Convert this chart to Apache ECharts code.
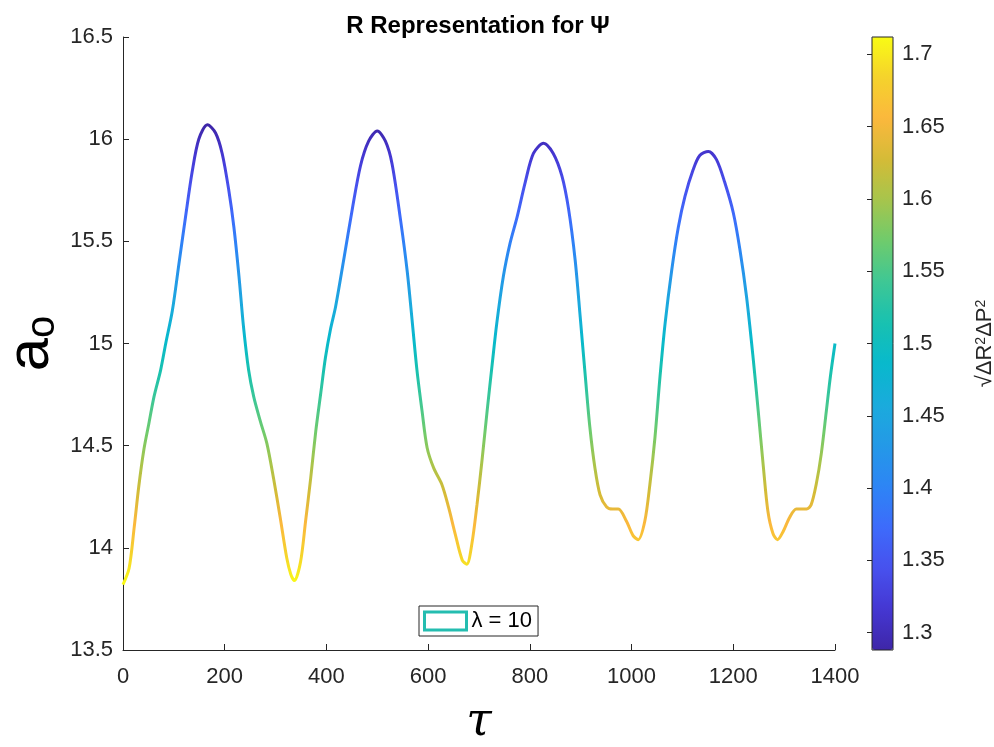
<!DOCTYPE html>
<html><head><meta charset="utf-8">
<script src="https://cdn.jsdelivr.net/npm/echarts@6/dist/echarts.min.js"></script>
<style>html,body{margin:0;padding:0;background:#fff}#c{width:994px;height:747px}</style>
</head><body><div id="c"></div>
<script>
// ---- data ----
const tau = [0,12,22,31,41,51,61,74,84,97,110,123,136,149,166,182,195,208,218,228,237,247,257,270,283,296,309,322,330,337,349,359,369,379,389,398,408,418,434,451,467,483,500,516,529,546,559,569,578,588,598,611,627,640,653,667,676,686,696,706,716,726,735,748,761,775,791,807,827,846,863,876,889,899,909,918,928,938,951,963,974,990,1003,1013,1026,1036,1046,1056,1066,1079,1092,1105,1121,1134,1151,1167,1183,1200,1213,1226,1239,1249,1259,1268,1278,1287,1298,1311,1324,1336,1344,1353,1363,1373,1383,1391,1400];
const aO = [13.82,13.90,14.10,14.30,14.48,14.61,14.74,14.87,15.00,15.16,15.39,15.62,15.84,16.00,16.07,16.03,15.93,15.75,15.57,15.33,15.08,14.87,14.74,14.62,14.51,14.34,14.15,13.95,13.87,13.84,13.93,14.13,14.34,14.57,14.76,14.93,15.07,15.18,15.41,15.66,15.87,15.99,16.04,15.99,15.88,15.60,15.35,15.10,14.87,14.67,14.49,14.39,14.31,14.20,14.07,13.94,13.92,14.02,14.21,14.43,14.67,14.90,15.10,15.33,15.49,15.62,15.79,15.93,15.98,15.93,15.82,15.66,15.41,15.13,14.84,14.59,14.39,14.26,14.20,14.19,14.19,14.13,14.06,14.04,14.13,14.31,14.54,14.84,15.10,15.36,15.57,15.72,15.85,15.92,15.94,15.90,15.79,15.64,15.46,15.23,14.93,14.67,14.40,14.18,14.07,14.04,14.08,14.15,14.19,14.19,14.19,14.21,14.31,14.46,14.67,14.84,15.00];
const xTicks = [0,200,400,600,800,1000,1200,1400];
const yTicks = [13.5,14,14.5,15,15.5,16,16.5];
const cbTicks = [1.3,1.35,1.4,1.45,1.5,1.55,1.6,1.65,1.7];
const cbRange = [1.288,1.712];
const seriesName = 'λ = 10';
const titleText = 'R Representation for Ψ';

// ---- styles ----
const parula = ['#3e26a8','#4537d2','#4751ee','#3d6bfb','#2d85f5','#2499e7','#1aabdc','#08b9cc','#18c1b1','#3ec795','#6ecb6d','#a6c54c','#d4bb37','#fbb83d','#f5d22c','#f9fb15'];
const txt = '#262626';
const FONT = 'Liberation Sans';
const FS = 22;
const yMin = yTicks[0], yMax = yTicks[yTicks.length-1];

const chart = echarts.init(document.getElementById('c'), null, {renderer:'canvas'});
chart.setOption({
  animation: false,
  backgroundColor: '#fff',
  title: {
    text: titleText, left: 473, top: 9, textAlign: 'center',
    textStyle: {fontFamily: FONT, fontSize: 24, fontWeight: 'bold', color: '#000'}
  },
  grid: [
    {left: 123, top: 37, width: 712, height: 613, containLabel: false, outerBoundsMode: 'none'},
    {left: 872, top: 37, width: 21, height: 613, containLabel: false, outerBoundsMode: 'none',
     show: true, borderColor: txt, borderWidth: 1, backgroundColor: 'rgba(0,0,0,0)', z: 10}
  ],
  xAxis: [
    {gridIndex: 0, type: 'value', min: xTicks[0], max: xTicks[xTicks.length-1], interval: 200,
     axisLine: {show: true, lineStyle: {color: txt, width: 1}},
     axisTick: {show: true, inside: true, length: 6, lineStyle: {color: txt}},
     axisLabel: {fontFamily: FONT, fontSize: FS, color: txt, margin: 16, formatter: v => String(v)},
     splitLine: {show: false},
     name: 'τ', nameLocation: 'middle', nameGap: 50,
     nameTextStyle: {fontFamily: 'DejaVu Serif', fontStyle: 'italic', fontSize: 46, color: '#000'}},
    {gridIndex: 1, type: 'value', min: 0, max: 1, show: false}
  ],
  yAxis: [
    {gridIndex: 0, type: 'value', min: yMin, max: yMax, interval: 0.5,
     axisLine: {show: true, lineStyle: {color: txt, width: 1}},
     axisTick: {show: true, inside: true, length: 6, lineStyle: {color: txt}},
     axisLabel: {fontFamily: FONT, fontSize: FS, color: txt, margin: 10},
     splitLine: {show: false}},
    {gridIndex: 1, type: 'value', position: 'right', min: cbRange[0], max: cbRange[1],
     axisLine: {show: false},
     axisTick: {show: true, inside: true, length: 5, customValues: cbTicks, lineStyle: {color: txt}},
     axisLabel: {fontFamily: FONT, fontSize: FS, color: txt, margin: 9, customValues: cbTicks},
     splitLine: {show: false},
     name: '{n|√ΔR}{s|2}{n|ΔP}{s|2}', nameLocation: 'middle', nameRotate: 90, nameGap: 81,
     nameTextStyle: {rich: {
       n: {fontFamily: FONT, fontSize: FS, color: txt},
       s: {fontFamily: FONT, fontSize: 14, color: txt, verticalAlign: 'top'}
     }}},
    // carries only the a_o axis title (no labels, so the name is not pushed aside)
    {gridIndex: 0, type: 'value', position: 'left', min: yMin, max: yMax, interval: 0.5,
     axisLine: {show: false}, axisTick: {show: false}, axisLabel: {show: false}, splitLine: {show: false},
     name: '{a|a}{o|o}', nameLocation: 'middle', nameGap: 60, nameRotate: 90,
     nameTextStyle: {rich: {
       a: {fontFamily: FONT, fontSize: 60, color: '#000', padding: [0,0,2,0]},
       o: {fontFamily: FONT, fontSize: 40, color: '#000', verticalAlign: 'bottom'}
     }}}
  ],
  visualMap: [
    {type: 'continuous', show: false, seriesIndex: 0, dimension: 1,
     min: 13.82, max: 16.07, inRange: {color: parula.slice().reverse()}},
    {type: 'continuous', show: true, seriesIndex: [], min: cbRange[0], max: cbRange[1],
     left: 872, top: 37, itemWidth: 21, itemHeight: 613, padding: 0, text: null,
     calculable: false, hoverLink: false, showLabel: false, inRange: {color: parula}}
  ],
  legend: {
    data: [{name: seriesName, icon: 'rect', itemStyle: {color: 'rgba(0,0,0,0)', borderColor: '#24bdb0', borderWidth: 3}}],
    left: 419, top: 606, itemWidth: 42, itemHeight: 18,
    padding: [4,6,4,4], backgroundColor: '#fff', borderColor: txt, borderWidth: 1, borderRadius: 0,
    textStyle: {fontFamily: FONT, fontSize: FS, color: '#000'}
  },
  series: [{
    name: seriesName, type: 'line', xAxisIndex: 0, yAxisIndex: 0,
    data: tau.map((t, i) => [t, aO[i]]),
    showSymbol: false, smooth: 0.3,
    lineStyle: {width: 3}
  }]
});
</script></body></html>
